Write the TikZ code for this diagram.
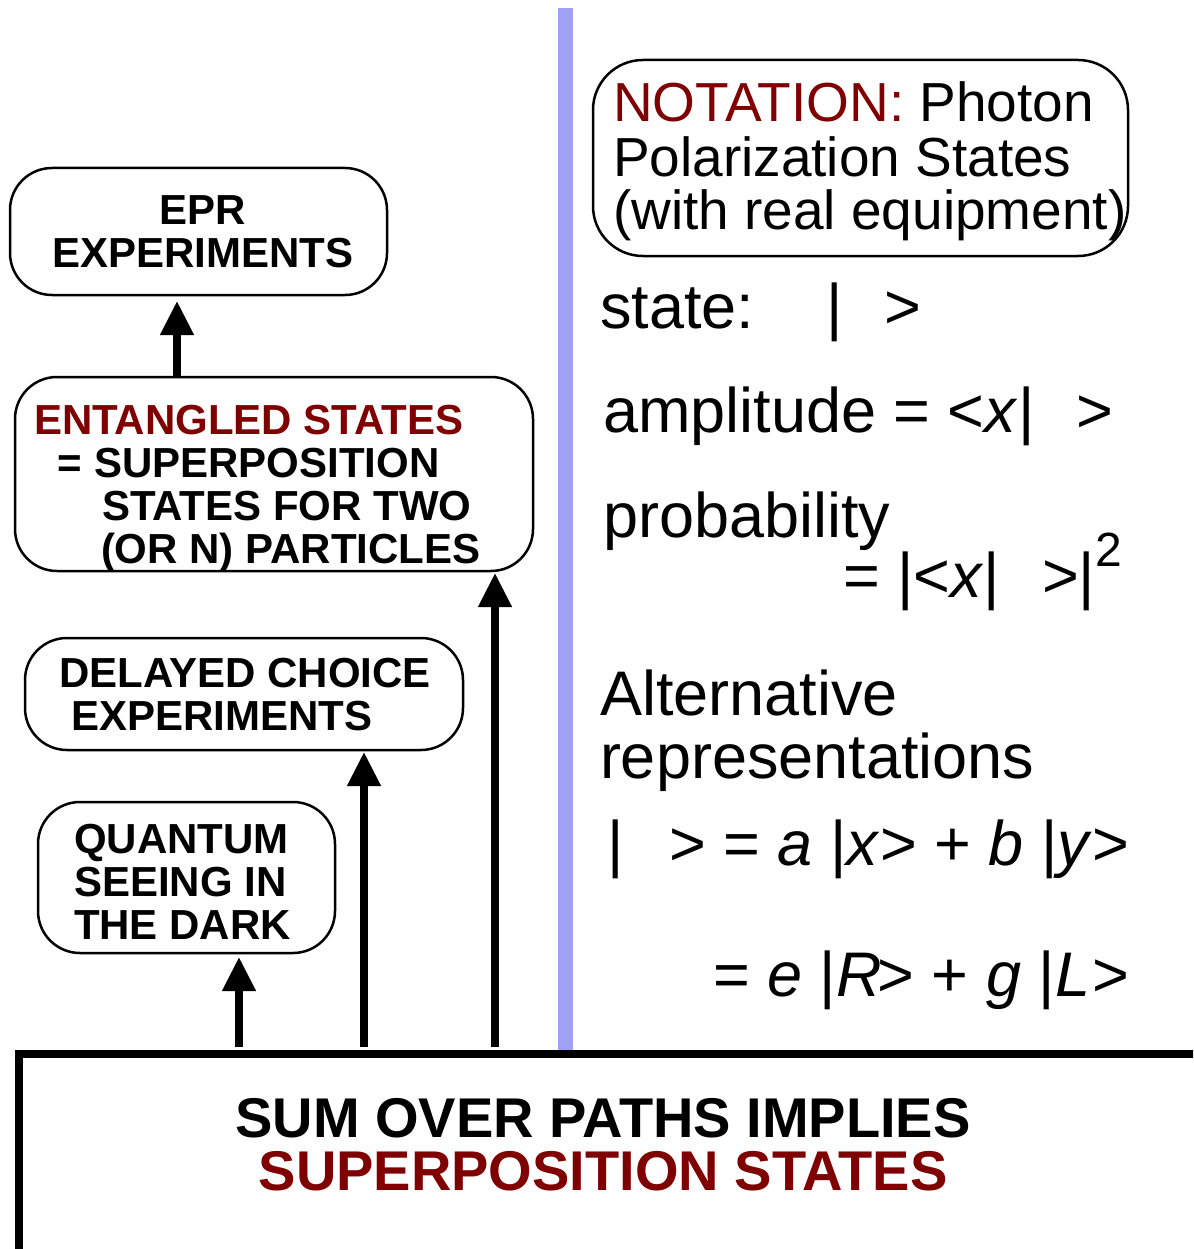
\documentclass[tikz,border=0pt]{standalone}
\usepackage{fontspec}
\setmainfont{Liberation Sans}
\usetikzlibrary{arrows.meta,positioning}
\definecolor{notered}{HTML}{7F0000}
\definecolor{divblue}{HTML}{A0A0F5}
\tikzset{
    every node/.style={inner sep=0pt,outer sep=0pt},
    topic/.style={draw,line width=2.5pt,rounded corners=42pt},
    topictext/.style={font=\fontsize{42}{43}\selectfont\bfseries,align=left,anchor=base west},
    notebox/.style={draw,line width=2.5pt,rounded corners=50pt},
    notetext/.style={font=\fontsize{55}{54}\selectfont,align=left,anchor=base west},
    braket/.style={font=\fontsize{63}{63}\selectfont,anchor=base west},
    sumframe/.style={draw,line width=8pt,minimum width=1250pt,minimum height=260pt},
    upflow/.style={line width=7.5pt,-{Triangle[length=34pt,width=32pt]}},
    divider/.style={draw=divblue,line width=15pt}
}

\begin{document}
\begin{tikzpicture}[x=1pt,y=-1pt]
\useasboundingbox (0,0) rectangle (1193,1249);
\clip (0,0) rectangle (1193,1249);

% dividing line
\draw[divider] (565,8) -- (565,1050);

% bottom frame
\node[sumframe,anchor=north west] (sum) at (19,1054) {};
\node[font=\fontsize{56}{53}\selectfont\bfseries,align=center,anchor=base] (sumtxt) at (603,1190)
    {SUM OVER PATHS IMPLIES\\\textcolor{notered}{SUPERPOSITION STATES}};

% left boxes
\node[topic,minimum width=377pt,minimum height=127pt] (epr) at (198.5,231.5) {};
\node[topic,minimum width=518pt,minimum height=194pt] (ent) at (274,474) {};
\node[topic,minimum width=438pt,minimum height=112pt] (dly) at (244,694) {};
\node[topic,minimum width=297pt,minimum height=151pt] (qsd) at (186.5,877.5) {};

% box texts (anchored on their last line)
\node[topictext,align=center,anchor=base] (eprtxt) at (203,267) {EPR\\EXPERIMENTS};
\node[topictext] (enttxt) at (34,563) {\textcolor{notered}{ENTANGLED STATES}\\
    \hspace*{24pt}= SUPERPOSITION\\\hspace*{68pt}STATES FOR TWO\\\hspace*{67pt}(OR N) PARTICLES};
\node[topictext] (dlytxt) at (59,730) {DELAYED CHOICE\\\hspace*{12pt}EXPERIMENTS};
\node[topictext] (qsdtxt) at (74,939) {QUANTUM\\SEEING IN\\THE DARK};

% arrows
\coordinate (qa) at (239,0);
\coordinate (da) at (364,0);
\coordinate (ea) at (495,0);
\coordinate (pa) at (177,0);
\draw[upflow,shorten <=7pt,shorten >=4pt] (qa |- sum.north) -- (qa |- qsd.south);
\draw[upflow,shorten <=7pt,shorten >=2pt] (da |- sum.north) -- (da |- dly.south);
\draw[upflow,shorten <=7pt,shorten >=2pt] (ea |- sum.north) -- (ea |- ent.south);
\draw[upflow,shorten >=6pt] (pa |- ent.north) -- (pa |- epr.south);

% notation
\node[notebox,minimum width=535pt,minimum height=196pt] (nota) at (860.5,158) {};
\node[notetext] (notatxt) at (613,230) {\textcolor{notered}{NOTATION:} Photon\\
    Polarization States\\(with real equipment)};

% states
\node[braket] (statel) at (600,328) {state:\hspace{72pt}|\hspace{42pt}>};
\node[braket] (ampl) at (603,432) {amplitude = <\textit{x}|\hspace{42pt}>};
\node[braket] (probl) at (603,537) {probability};
\node[braket] (probeq) at (843,597) {= |<\textit{x}|\hspace{42pt}>|\raisebox{31pt}{\fontsize{48}{48}\selectfont 2}};
\node[braket,align=left] (altl) at (600,778) {Alternative\\representations};
\node[braket] (repa) at (607,865) {|\hspace{46pt}> = \textit{a} |\textit{x}> + \textit{b} |\textit{y}>};
\node[braket] (repb) at (713,996) {= \textit{e} |\textit{R}\kern-4pt> + \textit{g} |\textit{L}\kern2pt>};
\end{tikzpicture}
\end{document}
